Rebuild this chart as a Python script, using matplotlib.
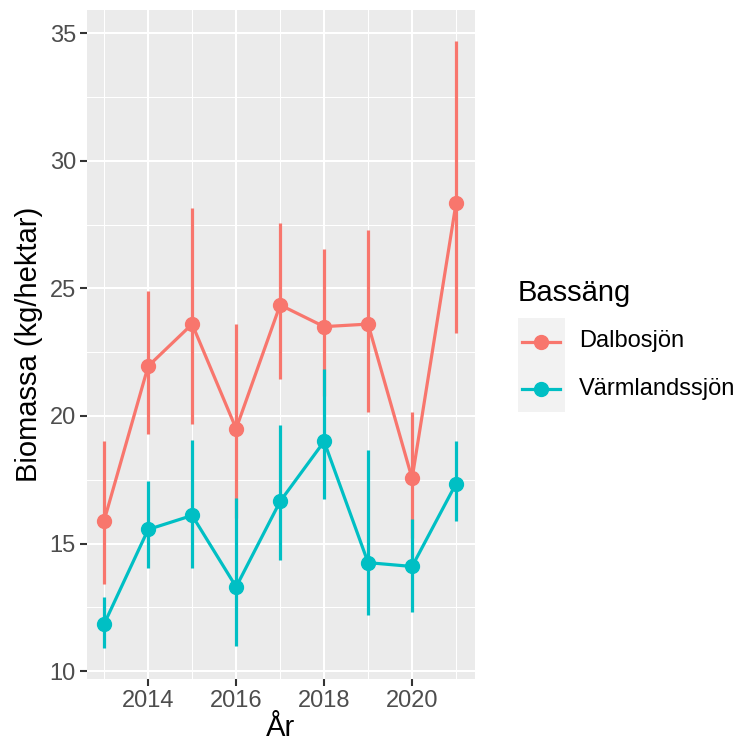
import matplotlib
matplotlib.use("Agg")
import matplotlib.pyplot as plt
from matplotlib.lines import Line2D
from matplotlib.patches import Rectangle
import numpy as np

plt.rcParams['font.family'] = ['Liberation Sans', 'DejaVu Sans']

years = [2013, 2014, 2015, 2016, 2017, 2018, 2019, 2020, 2021]

dalbo_mean = [15.9, 21.95, 23.6, 19.5, 24.35, 23.5, 23.6, 17.55, 28.35]
dalbo_low = [13.4, 19.3, 19.7, 16.0, 21.45, 20.8, 20.15, 15.2, 23.25]
dalbo_high = [19.0, 24.9, 28.15, 23.6, 27.55, 26.55, 27.3, 20.15, 34.7]

varm_mean = [11.85, 15.55, 16.1, 13.3, 16.65, 19.0, 14.25, 14.1, 17.35]
varm_low = [10.9, 14.05, 14.05, 11.0, 14.35, 16.75, 12.2, 12.3, 15.9]
varm_high = [12.9, 17.45, 19.05, 16.8, 19.65, 21.85, 18.65, 15.95, 19.0]

series = [
    ("Dalbosjön", "#F8766D", dalbo_mean, dalbo_low, dalbo_high),
    ("Värmlandssjön", "#00BFC4", varm_mean, varm_low, varm_high),
]

W, H = 738, 744
fig = plt.figure(figsize=(W / 100, H / 100), dpi=100)
fig.patch.set_facecolor("white")
ax = fig.add_axes([87 / W, 1 - 679 / H, (475 - 87) / W, (679 - 10) / H])
ax.set_facecolor("#EBEBEB")

for name, col, m, lo, hi in series:
    ax.plot(years, m, color=col, lw=2.3, zorder=3, solid_capstyle="butt")
for name, col, m, lo, hi in series:
    ax.vlines(years, lo, hi, color=col, lw=2.3, zorder=4)
for name, col, m, lo, hi in series:
    ax.plot(years, m, "o", color=col, ms=10, zorder=5)

ax.set_xlim(2012.61, 2021.43)
ax.set_ylim(9.69, 35.91)
ax.set_xticks([2014, 2016, 2018, 2020])
ax.set_xticks([2013, 2015, 2017, 2019, 2021], minor=True)
ax.set_yticks([10, 15, 20, 25, 30, 35])
ax.set_yticks([12.5, 17.5, 22.5, 27.5, 32.5], minor=True)
ax.grid(which="major", color="white", lw=1.5, zorder=0)
ax.grid(which="minor", color="white", lw=0.75, zorder=0)
ax.set_axisbelow(True)
for s in ax.spines.values():
    s.set_visible(False)
ax.tick_params(which="major", length=5, width=1.5, color="#333333",
               labelsize=17, labelcolor="#4D4D4D", pad=3)
ax.tick_params(which="minor", length=0)

ax.set_xlabel("År", fontsize=21, color="black", labelpad=1)
ax.set_ylabel("Biomassa (kg/hektar)", fontsize=21, color="black", labelpad=5)


def fp(x, y):
    return (x / W, 1 - y / H)


fig.text(*fp(518, 301), "Bassäng", fontsize=21, ha="left", va="baseline")
for i, (name, col, m, lo, hi) in enumerate(series):
    top = 318 + i * 47
    x0, y0 = fp(518, top + 47)
    fig.add_artist(Rectangle((x0, y0), 47 / W, 47 / H, transform=fig.transFigure,
                             facecolor="#F2F2F2", edgecolor="none"))
    cy = top + 23.5
    fig.add_artist(Line2D([522 / W, 560 / W], [1 - cy / H] * 2, transform=fig.transFigure,
                          color=col, lw=2.3))
    fig.add_artist(Line2D([541 / W], [1 - cy / H], transform=fig.transFigure,
                          color=col, marker="o", ms=10))
    fig.text(*fp(579, cy), name, fontsize=17, ha="left", va="center")

fig.savefig("out.png", dpi=100)
